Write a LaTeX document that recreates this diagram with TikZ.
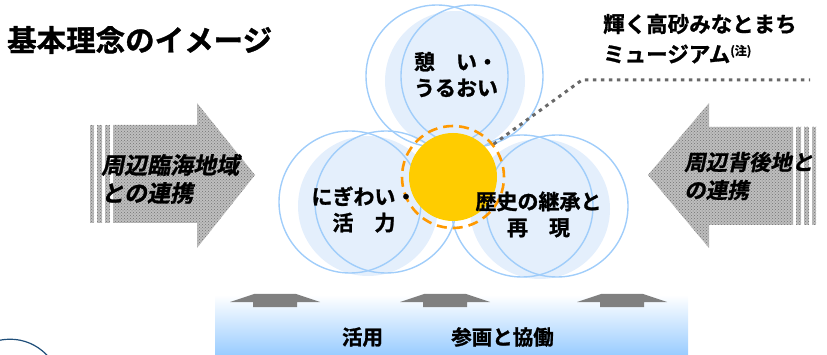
\documentclass[tikz,border=0pt]{standalone}
\usepackage{fontspec}
\setmainfont{Noto Sans CJK JP}[BoldFont=* Bold, BoldFeatures={FakeBold=1.2}]
\newfontfamily\jpit{Noto Sans CJK JP}[UprightFont=* Bold, FakeSlant=0.2, FakeBold=1.2]
\usetikzlibrary{patterns}
\definecolor{petalline}{RGB}{160,205,250}
\definecolor{petalfill}{RGB}{228,239,252}
\definecolor{sunyellow}{RGB}{255,204,0}
\definecolor{ringorange}{RGB}{255,153,0}
\definecolor{arrowgray}{RGB}{190,190,190}
\definecolor{upgray}{RGB}{128,128,128}
\definecolor{bandblue}{RGB}{153,204,255}
\definecolor{dotgray}{RGB}{105,105,105}
\definecolor{arcblue}{RGB}{31,78,121}
\tikzset{
  petalfillstyle/.style={fill=petalfill, draw=none},
  petalline/.style={draw=petalline, line width=1.4pt},
  sidearrow/.style={fill=arrowgray, draw=none, postaction={pattern=crosshatch dots, pattern color=black!55}},
  uparrow/.style={fill=upgray, draw=none},
  lbl/.style={inner sep=0pt, font=\bfseries\fontsize{21}{26}\selectfont, align=center},
  sidelbl/.style={inner sep=0pt, font=\jpit\fontsize{23}{28}\selectfont, align=left, anchor=west},
  dotline/.style={draw=dotgray, line width=3pt, dash pattern=on 3.5pt off 4.5pt},
}
\begin{document}
\begin{tikzpicture}[x=1pt, y=-1pt]
\useasboundingbox (0,0) rectangle (827,355);

% bottom-left arc
\begin{scope}
  \clip (0,0) rectangle (827,355);
  \draw[arcblue, line width=1.2pt] (10,390) circle[radius=50.8pt];
\end{scope}

% title
\node[inner sep=0pt, anchor=west, font=\bfseries\fontsize{29.5}{29.5}\selectfont] (title) at (7,40) {基本理念のイメージ};

% museum label
\node[inner sep=0pt, anchor=west, font=\bfseries\fontsize{21.5}{21.5}\selectfont] (museumA) at (603,24) {輝く高砂みなとまち};
\node[inner sep=0pt, anchor=west, font=\bfseries\fontsize{21.5}{21.5}\selectfont] (museumB) at (603,54) {ミュージアム\raisebox{7pt}{\fontsize{12}{12}\selectfont (注)}};

% side arrows
\path[sidearrow] (113,125) -- (197,125) -- (197,103) -- (255,175) -- (197,248) -- (197,223) -- (113,223) -- cycle;
\path[sidearrow] (90,125) rectangle (94,223);
\path[sidearrow] (97,125) rectangle (102,223);
\path[sidearrow] (105,125) rectangle (110,223);

\path[sidearrow] (793,127) -- (709,127) -- (709,103) -- (648,175) -- (709,248) -- (709,225) -- (793,225) -- cycle;
\path[sidearrow] (796,127) rectangle (801,225);
\path[sidearrow] (804,127) rectangle (809,225);
\path[sidearrow] (812,127) rectangle (816,225);

\node[sidelbl] (leftlbl) at (101,179) {周辺臨海地域\\との連携};
\node[sidelbl, font=\jpit\fontsize{21.5}{28}\selectfont] (rightlbl) at (684,176) {周辺背後地と\\の連携};

% bottom band
\shade[top color=white, bottom color=bandblue] (215,295) rectangle (688,355);
\foreach \dx in {0,170,347} {
  \path[uparrow] (230+\dx,302) -- (254+\dx,294) -- (296+\dx,294) -- (320+\dx,302) -- (297+\dx,302) -- (297+\dx,307) -- (253+\dx,307) -- (253+\dx,302) -- cycle;
}
\node[inner sep=0pt, font=\bfseries\fontsize{20.5}{20.5}\selectfont] (katsuyo) at (362.5,337) {活用};
\node[inner sep=0pt, font=\bfseries\fontsize{20.5}{20.5}\selectfont] (sankaku) at (502.5,337) {参画と協働};

% petals fills
\path[petalfillstyle] (455,81) circle[radius=70pt];
\path[petalfillstyle] (368,206) circle[radius=70pt];
\path[petalfillstyle] (540,209) circle[radius=70pt];
% petal outlines
\draw[petalline] (437,76) circle[radius=71pt];
\draw[petalline] (472,76) circle[radius=71pt];
\draw[petalline] (350,202) circle[radius=71pt];
\draw[petalline] (386,202) circle[radius=71pt];
\draw[petalline] (522,206) circle[radius=71pt];
\draw[petalline] (557,206) circle[radius=71pt];

% sun
\node[circle, minimum size=102pt, inner sep=0pt, draw=ringorange, line width=2.6pt, dash pattern=on 10pt off 6pt] (ring) at (453,177) {};
\node[circle, minimum size=88pt, inner sep=0pt, fill=sunyellow] (sun) at (453,177) {};

% dotted leader
\coordinate (d2) at (582,80);
\coordinate (d3) at (810,80);
\draw[dotline] (ring.39) -- (d2) -- (d3);

% petal labels
\node[lbl] (top) at (456,74.5) {憩　い・\\うるおい};
\node[lbl] (left) at (364,209.5) {にぎわい・\\活　力};
\node[lbl] (right) at (538.5,214.5) {歴史の継承と\\再　現};

\end{tikzpicture}
\end{document}
